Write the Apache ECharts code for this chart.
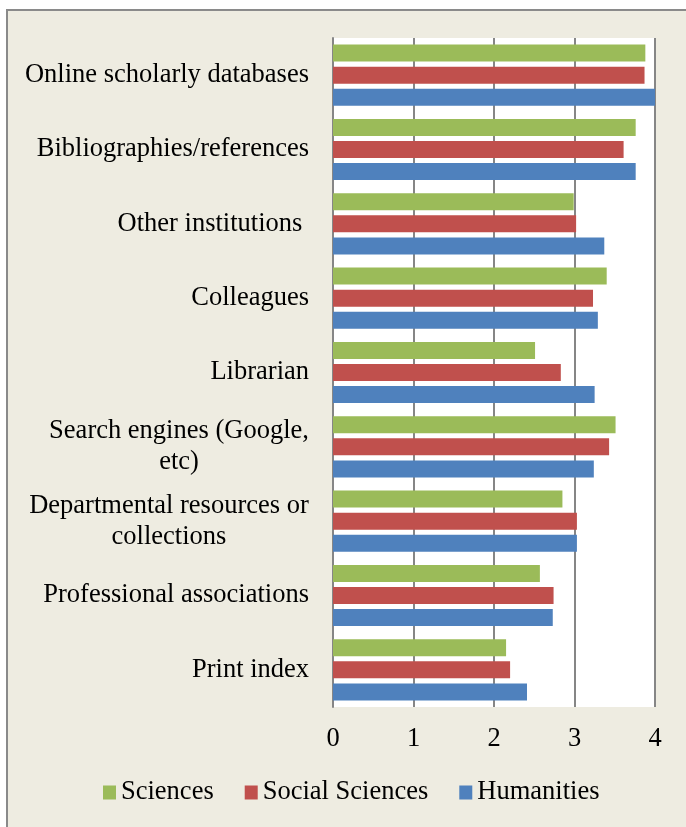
<!DOCTYPE html>
<html>
<head>
<meta charset="utf-8">
<script src="https://cdn.jsdelivr.net/npm/echarts@6/dist/echarts.min.js"></script>
<style>
  html, body { margin: 0; padding: 0; background: #ffffff; }
  #frame { position: absolute; left: 6px; top: 9px; width: 720px; height: 860px;
           background: #EEECE1; border: 2px solid #8a8a8a; box-sizing: border-box; }
  #chart { position: absolute; left: 0; top: 0; width: 686px; height: 827px; }
</style>
</head>
<body>
<div id="frame"></div>
<div id="chart"></div>
<script>
const categories = [
  "Online scholarly databases",
  "Bibliographies/references",
  "Other institutions ",
  "Colleagues",
  "Librarian",
  "Search engines (Google,\netc)",
  "Departmental resources or\ncollections",
  "Professional associations",
  "Print index"
];
const seriesNames = ["Sciences", "Social Sciences", "Humanities"];
const sciences       = [3.88, 3.76, 2.99, 3.40, 2.51, 3.51, 2.85, 2.57, 2.15];
const socialSciences = [3.87, 3.61, 3.02, 3.23, 2.83, 3.43, 3.03, 2.74, 2.20];
const humanities     = [4.00, 3.76, 3.37, 3.29, 3.25, 3.24, 3.03, 2.73, 2.41];
const xTicks = [0, 1, 2, 3, 4];

const FONT = '"Liberation Serif", "Times New Roman", serif';
const FS = 26.5;
const colors = ["#9BBB59", "#C0504D", "#4F81BD"];

// measure multi-line label widths for centered lines
const ctx = document.createElement('canvas').getContext('2d');
ctx.font = FS + 'px ' + FONT;
const rich = {};
const labelMap = {};
categories.forEach((c, i) => {
  const lines = c.split('\n');
  if (lines.length > 1) {
    const w = Math.max(...lines.map(l => ctx.measureText(l).width));
    const key = 'm' + i;
    rich[key] = { width: Math.ceil(w), align: 'center', fontSize: FS, fontFamily: FONT, color: '#000', lineHeight: 31 };
    labelMap[c] = lines.map(l => '{' + key + '|' + l + '}').join('\n');
  }
});

const chart = echarts.init(document.getElementById('chart'), null, { renderer: 'canvas' });
const data = [sciences, socialSciences, humanities];
chart.setOption({
  backgroundColor: 'transparent',
  animation: false,
  grid: { left: 333, right: 31, top: 38, bottom: 120, show: true, backgroundColor: '#ffffff', borderWidth: 0 },
  xAxis: {
    type: 'value', min: xTicks[0], max: xTicks[xTicks.length - 1], interval: 1,
    axisLine: { show: false }, axisTick: { show: false },
    splitLine: { show: true, lineStyle: { color: '#868686', width: 2 } },
    axisLabel: { color: '#000', fontSize: FS, fontFamily: FONT, margin: 19 }
  },
  yAxis: {
    type: 'category', data: categories, inverse: true,
    axisLine: { show: true, lineStyle: { color: '#868686', width: 2 } },
    axisTick: { show: false },
    axisLabel: {
      color: '#000', fontSize: FS, fontFamily: FONT, margin: 24, align: 'right', lineHeight: 31,
      formatter: v => labelMap[v] || v, rich: rich
    }
  },
  legend: {
    left: 98, top: 774, itemWidth: 13, itemHeight: 14, itemGap: 31, icon: 'rect',
    textStyle: { color: '#000', fontSize: FS, fontFamily: FONT },
    data: seriesNames
  },
  series: seriesNames.map((n, i) => ({
    name: n, type: 'bar', data: data[i], barWidth: 17, barGap: '30%',
    itemStyle: { color: colors[i] }
  }))
});
</script>
</body>
</html>
